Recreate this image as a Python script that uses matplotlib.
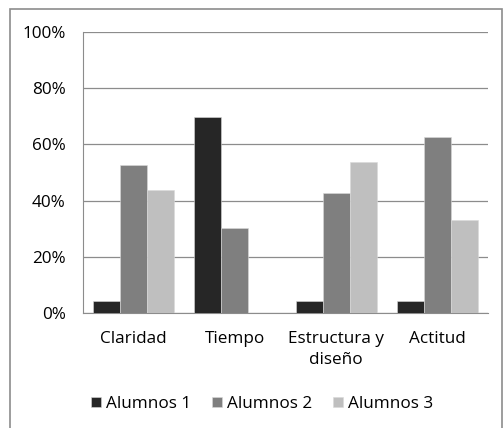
import matplotlib
matplotlib.use("Agg")
import matplotlib.pyplot as plt
import numpy as np
from matplotlib.patches import Rectangle

plt.rcParams["font.family"] = ["Open Sans", "DejaVu Sans"]

categorias = ["Claridad", "Tiempo", "Estructura y\ndiseño", "Actitud"]
series = ["Alumnos 1", "Alumnos 2", "Alumnos 3"]
alumnos_1 = [0.043, 0.696, 0.043, 0.043]
alumnos_2 = [0.527, 0.301, 0.426, 0.626]
alumnos_3 = [0.437, 0.0, 0.536, 0.332]
colores = ["#262626", "#7f7f7f", "#bfbfbf"]

W, H = 503, 428
fig = plt.figure(figsize=(W / 100, H / 100), dpi=100)
ax = fig.add_axes([83 / W, 1 - 313 / H, (488 - 83) / W, (313 - 32) / H])

x = np.arange(len(categorias))
ancho = 0.267
for i, (vals, nombre) in enumerate(zip([alumnos_1, alumnos_2, alumnos_3], series)):
    ax.bar(x + (i - 1) * ancho, vals, width=ancho, color=colores[i],
           edgecolor="#d9d9d9", linewidth=0.4, label=nombre, zorder=3)

ax.set_xlim(-0.5, len(categorias) - 0.5)
ax.set_ylim(0, 1)
ax.set_yticks(np.arange(0, 1.01, 0.2))
ax.set_yticklabels([f"{int(round(v * 100))}%" for v in np.arange(0, 1.01, 0.2)])
ax.set_xticks(x)
ax.set_xticklabels(categorias, linespacing=1.45)
ax.yaxis.grid(True, color="#8c8c8c", linewidth=0.9, zorder=0)
ax.tick_params(axis="both", length=0, labelsize=12.3, colors="#000000")
ax.tick_params(axis="y", pad=12.5)
ax.tick_params(axis="x", pad=13)
for lado in ["top", "right"]:
    ax.spines[lado].set_visible(False)
ax.spines["left"].set_color("#8c8c8c")
ax.spines["bottom"].set_color("#8c8c8c")

fig.legend(loc="center", bbox_to_anchor=(0.521, 1 - 404 / H), ncol=3, frameon=False,
           fontsize=12.3, handlelength=0.6, handleheight=0.6, handletextpad=0.3,
           columnspacing=1.2)

fig.patches.append(Rectangle((10 / W, -0.05), (W - 11) / W, 1.05 - 9 / H,
                             transform=fig.transFigure, fill=False,
                             edgecolor="#8c8c8c", linewidth=1.2))

fig.savefig("out.png", dpi=100)
